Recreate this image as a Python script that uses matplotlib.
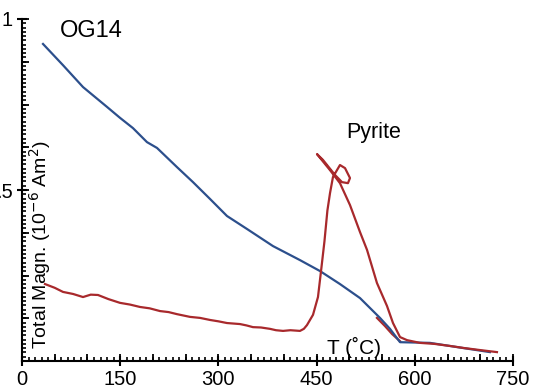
import matplotlib
matplotlib.use("Agg")
import matplotlib.pyplot as plt
import numpy as np

plt.rcParams['font.family'] = ['Liberation Sans', 'DejaVu Sans']

# Blue curve (temperature °C, magnetization 1e-6 Am^2)
blue_T = [32.1, 62.6, 93.2, 129.8, 149.7, 169.5, 190.9, 206.2, 236.7, 261.2,
          287.1, 313.1, 343.7, 383.4, 424.6, 455.2, 485.7, 516.3, 546.8, 562.1,
          577.4, 623.2, 673.6, 714.8]
blue_M = [0.927, 0.865, 0.801, 0.743, 0.711, 0.681, 0.640, 0.623, 0.567, 0.523,
          0.474, 0.424, 0.386, 0.336, 0.295, 0.263, 0.225, 0.184, 0.126, 0.094,
          0.055, 0.053, 0.038, 0.026]

# Red curve (pyrite alteration run)
red_T = [35.1, 50.0, 62.6, 78.0, 93.2, 105.0, 116.1, 132.0, 149.7, 165.0,
         180.2, 195.0, 210.8, 224.0, 236.7, 256.6, 272.0, 287.2, 300.0, 313.1,
         333.0, 343.0, 352.8, 365.0, 378.8, 388.0, 398.7, 410.0, 424.6, 430.5,
         435.3, 444.5, 452.1, 457.5,
         462.0, 466.5, 470.5, 475.0, 481.1, 485.7, 493.4, 501.0, 497.9, 488.8,
         478.1, 459.7, 450.6, 470.5, 485.7, 501.0, 516.3, 527.0, 542.2, 557.5,
         566.7, 577.4, 588.1, 607.9, 630.0, 653.7, 675.0, 699.6, 725.5]
red_M = [0.225, 0.214, 0.202, 0.196, 0.187, 0.194, 0.193, 0.181, 0.170, 0.165,
         0.158, 0.154, 0.146, 0.143, 0.137, 0.129, 0.126, 0.120, 0.116, 0.111,
         0.108, 0.104, 0.099, 0.098, 0.094, 0.090, 0.088, 0.090, 0.088, 0.094,
         0.105, 0.135, 0.187, 0.275,
         0.350, 0.440, 0.491, 0.538, 0.558, 0.573, 0.564, 0.535, 0.520, 0.523,
         0.544, 0.588, 0.605, 0.558, 0.520, 0.456, 0.377, 0.325, 0.228, 0.161,
         0.111, 0.070, 0.061, 0.053, 0.050, 0.044, 0.038, 0.032, 0.026]

# Short red segment near 550-580 °C
red2_T = [542.2, 554.5, 565.2, 577.4]
red2_M = [0.126, 0.102, 0.079, 0.058]

x_ticks = [0, 150, 300, 450, 600, 750]
x_ticklabels = ['0', '150', '300', '450', '600', '750']
y_ticks = [0.5, 1.0]
y_ticklabels = ['.5', '1']

blue_c = '#2c4f8c'
red_c = '#a8292c'

fig = plt.figure(figsize=(5.33, 3.89), dpi=100)
ax = fig.add_axes([22/533, 28/389, 491/533, 342/389])

ax.plot(blue_T, blue_M, color=blue_c, lw=1.6, solid_joinstyle='round', zorder=2)
ax.plot(red_T, red_M, color=red_c, lw=1.6, solid_joinstyle='round', zorder=3)
ax.plot(red2_T, red2_M, color=red_c, lw=1.6, solid_joinstyle='round', zorder=1)

ax.set_xlim(0, 750)
ax.set_ylim(0, 1)
for s in ['top', 'right']:
    ax.spines[s].set_visible(False)
for s in ['left', 'bottom']:
    ax.spines[s].set_linewidth(1.5)

ax.set_xticks(x_ticks)
ax.set_xticklabels(x_ticklabels)
ax.set_yticks(y_ticks)
ax.set_yticklabels(y_ticklabels)
ax.set_xticks(np.arange(0, 751, 10), minor=True)
ax.set_yticks(np.arange(0, 1.001, 0.0125), minor=True)
ax.tick_params(axis='both', which='major', direction='inout', length=7, width=1.5,
               labelsize=14.5, pad=3)
ax.tick_params(axis='both', which='minor', direction='in', length=3, width=1.2)

# medium ticks
secx = ax.secondary_xaxis('bottom')
secx.set_xticks(np.arange(0, 751, 50))
secx.tick_params(direction='in', length=5, width=1.3, labelbottom=False)
secx.spines['bottom'].set_visible(False)
secy = ax.secondary_yaxis('left')
secy.set_yticks(np.arange(0, 1.001, 0.125))
secy.tick_params(direction='in', length=5, width=1.3, labelleft=False)
secy.spines['left'].set_visible(False)

ax.text(38/491, (361-37)/342, 'OG14', transform=ax.transAxes, fontsize=17,
        ha='left', va='baseline')
ax.text(495, 0.667, 'Pyrite', fontsize=15.5, ha='left', va='center')
ax.text(466, 0.04, 'T (˚C)', fontsize=15, ha='left', va='center')
ax.text(28, 0.34, 'Total Magn. (10$^{-6}$ Am$^{2}$)', rotation=90, fontsize=14,
        ha='center', va='center')

fig.savefig('out.png', dpi=100)
